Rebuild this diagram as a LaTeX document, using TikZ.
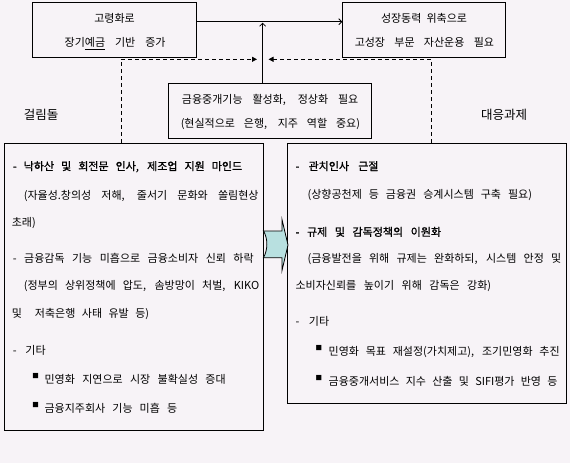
\documentclass[tikz,border=0pt]{standalone}
\usepackage{fontspec}
\setmainfont{Noto Sans CJK KR}[WordSpace=1]
\newfontfamily\hbold{Noto Sans CJK KR}[WordSpace=1,FakeBold=1]
\usetikzlibrary{arrows.meta}
\definecolor{bgc}{RGB}{247,243,247}
\definecolor{arrc}{RGB}{184,224,224}
\newcommand\jl[2]{\makebox[#1][s]{#2}}
\begin{document}
\begin{tikzpicture}[x=1pt,y=-1pt,
  box/.style={draw,line width=0.8pt,inner sep=0pt},
  txt/.style={inner sep=0pt,font=\fontsize{11}{13}\selectfont,text height=10.5pt,text depth=2pt},
  lt/.style={txt,anchor=west},
  ct/.style={txt,anchor=center},
  lab/.style={inner sep=0pt,font=\fontsize{12.5}{14}\selectfont,anchor=center},
  bul/.style={inner sep=0pt,font=\fontsize{6.5}{7}\selectfont,text height=5pt,text depth=0pt,anchor=west},
  openarr/.style={-{Straight Barb[length=3pt,width=6pt]},line width=0.8pt},
  dasharr/.style={-{Triangle[length=5pt,width=5pt]},line width=0.8pt,dash pattern=on 4pt off 3pt}]
\fill[bgc] (0,0) rectangle (570,463);
\useasboundingbox (0,0) rectangle (570,463);

% boxes
\node[box,minimum width=163.7pt,minimum height=54.6pt] (tl) at (114.5,30) {};
\node[box,minimum width=163pt,minimum height=54.6pt] (tr) at (424.2,30) {};
\node[box,minimum width=203.4pt,minimum height=55pt] (mid) at (270.1,110.8) {};
\node[box,minimum width=259pt,minimum height=286.7pt] (lbox) at (133.9,286.7) {};
\node[box,minimum width=279.3pt,minimum height=260pt] (rbox) at (427,273.3) {};

% coordinates
\coordinate (hl) at (0,21.7);
\coordinate (vx) at (262.6,0);
\coordinate (dla) at (121,59.3);
\coordinate (dlb) at (257,59.3);
\coordinate (dra) at (431,59.3);
\coordinate (drb) at (268.5,59.3);

% connectors
\draw[openarr] (tl.east |- hl) -- (tr.west |- hl);
\draw[openarr] (mid.north -| vx) -- ([yshift=-1pt]vx |- hl);
\draw[dasharr] (lbox.north -| dla) -- (dla) -- (dlb);
\draw[dasharr] (rbox.north -| dra) -- (dra) -- (drb);

% block arrow
\filldraw[fill=arrc,draw=black,line width=0.8pt]
  (263.4,231) -- (282,231) -- (282,219.5) -- (288,245) -- (282,270.5) -- (282,257.7)
  -- (263.4,257.7) .. controls (268,250) and (268,238) .. cycle;

% top texts
\node[ct] (t1) at (114.5,18.3) {고령화로};
\node[ct] (t2) at (115.1,42.7) {\jl{100.8pt}{장기\underline{예금} 기반 증가}};
\node[ct] (t3) at (424,18.3) {\jl{86pt}{성장동력 위축으로}};
\node[ct] (t4) at (424.4,42.7) {\jl{139.3pt}{고성장 부문 자산운용 필요}};
\node[ct] (m1) at (270.1,99.3) {\jl{176.4pt}{금융중개기능 활성화, 정상화 필요}};
\node[ct] (m2) at (270.4,123.3) {\jl{179.3pt}{(현실적으로 은행, 지주 역할 중요)}};
\node[lab] (labl) at (41,115) {걸림돌};
\node[lab] (labr) at (504,115) {대응과제};

% left box
\node[lt] (l1) at (12.7,166) {\hbold\jl{229.3pt}{- 낙하산 및 회전문 인사, 제조업 지원 마인드}};
\node[lt] (l2) at (23.6,195) {\jl{234.7pt}{(자율성.창의성 저해, 줄서기 문화와 쏠림현상}};
\node[lt] (l3) at (11.6,222.3) {초래)};
\node[lt] (l4) at (12.7,258.3) {\jl{240.8pt}{- 금융감독 기능 미흡으로 금융소비자 신뢰 하락}};
\node[lt] (l5) at (23.6,285.7) {\jl{235.4pt}{(정부의 상위정책에 압도, 솜방망이 처벌, KIKO}};
\node[lt] (l6) at (11.6,313.3) {\jl{137.4pt}{및 \ 저축은행 사태 유발 등)}};
\node[lt] (l7) at (12.7,350) {\jl{32.8pt}{- 기타}};
\node[bul] (lb1) at (32.2,376.3) {■};
\node[lt] (l8) at (44.4,379.3) {\jl{181.1pt}{민영화 지연으로 시장 불확실성 증대}};
\node[bul] (lb2) at (32.2,405.3) {■};
\node[lt] (l9) at (44.4,408.3) {\jl{132.6pt}{금융지주회사 기능 미흡 등}};

% right box
\node[lt] (r1) at (295.4,166) {\hbold\jl{82.9pt}{- 관치인사 근절}};
\node[lt] (r2) at (307.4,194.3) {\jl{224.4pt}{(상향공천제 등 금융권 승계시스템 구축 필요)}};
\node[lt] (r3) at (295.4,231.7) {\hbold\jl{145.5pt}{- 규제 및 감독정책의 이원화}};
\node[lt] (r4) at (307.4,258.3) {\jl{253.6pt}{(금융발전을 위해 규제는 완화하되, 시스템 안정 및}};
\node[lt] (r5) at (295.4,285.7) {\jl{195.6pt}{소비자신뢰를 높이기 위해 감독은 강화)}};
\node[lt] (r6) at (295.4,321.7) {\jl{33.6pt}{- 기타}};
\node[bul] (rb1) at (315.3,348.3) {■};
\node[lt] (r7) at (328.5,351) {\jl{231pt}{민영화 목표 재설정(가치제고), 조기민영화 추진}};
\node[bul] (rb2) at (315.3,378.3) {■};
\node[lt] (r8) at (328.5,381) {\jl{228.8pt}{금융중개서비스 지수 산출 및 SIFI평가 반영 등}};
\end{tikzpicture}
\end{document}
